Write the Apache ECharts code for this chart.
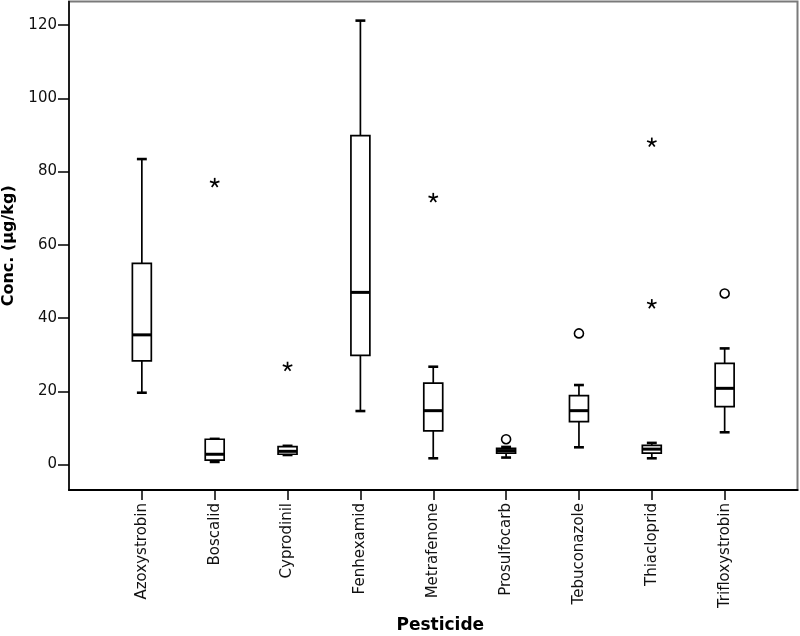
<!DOCTYPE html>
<html>
<head>
<meta charset="utf-8">
<script src="https://cdn.jsdelivr.net/npm/echarts@6/dist/echarts.min.js"></script>
<style>html,body{margin:0;padding:0;background:#fff}#c{width:800px;height:636px}</style>
</head>
<body>
<div id="c"></div>
<script>
const categories = ['Azoxystrobin','Boscalid','Cyprodinil','Fenhexamid','Metrafenone','Prosulfocarb','Tebuconazole','Thiacloprid','Trifloxystrobin'];
const minVals = [19.6, 0.7, 2.6, 14.6, 1.7, 1.9, 4.7, 1.7, 8.8];
const q1Vals  = [28.3, 1.2, 2.8, 29.8, 9.2, 3.1, 11.7, 3.1, 15.8];
const medVals = [35.4, 2.8, 3.6, 47.0, 14.7, 3.8, 14.7, 4.2, 20.8];
const q3Vals  = [54.9, 6.9, 4.9, 89.8, 22.2, 4.4, 18.8, 5.2, 27.6];
const maxVals = [83.4, 7.0, 5.1, 121.2, 26.7, 4.8, 21.7, 5.9, 31.7];
const starOutliers = [['Boscalid', 76.9], ['Cyprodinil', 26.7], ['Metrafenone', 72.8], ['Thiacloprid', 87.9], ['Thiacloprid', 43.8]];
const circleOutliers = [['Prosulfocarb', 6.9], ['Tebuconazole', 35.8], ['Trifloxystrobin', 46.7]];
const yTicks = [0, 20, 40, 60, 80, 100, 120];

const axisCats = [''].concat(categories, ['']);
const idx = name => axisCats.indexOf(name);
const boxData = categories.map((c, i) => [idx(c), minVals[i], q1Vals[i], medVals[i], q3Vals[i], maxVals[i]]);
const starData = starOutliers.map(d => [idx(d[0]), d[1]]);
const circleData = circleOutliers.map(d => [idx(d[0]), d[1]]);

const chart = echarts.init(document.getElementById('c'), null, {renderer: 'canvas'});
const FONT = 'DejaVu Sans';
chart.setOption({
  animation: false,
  backgroundColor: '#fff',
  grid: {left: 69, right: 2.5, top: 1.5, bottom: 146, containLabel: false, outerBoundsMode: 'none',
         show: true, borderColor: '#7a7a7a', borderWidth: 2, backgroundColor: '#fff'},
  xAxis: {
    type: 'category', data: axisCats, boundaryGap: false,
    name: 'Pesticide', nameLocation: 'middle', nameGap: 127,
    nameTextStyle: {fontFamily: FONT, fontWeight: 'bold', fontSize: 17, color: '#000', padding: [0, 0, 0, 14]},
    axisLine: {onZero: false, lineStyle: {color: '#000', width: 2}},
    axisTick: {show: true, length: 10, lineStyle: {color: '#000', width: 1.5}, interval: (i, v) => v !== ''},
    axisLabel: {rotate: 90, margin: 13, fontFamily: FONT, fontSize: 15, color: '#111', interval: (i, v) => v !== ''},
    splitLine: {show: false}
  },
  yAxis: {
    type: 'value', min: -6.96, max: 126.42,
    name: 'Conc. (µg/kg)', nameLocation: 'middle', nameGap: 52,
    nameTextStyle: {fontFamily: FONT, fontWeight: 'bold', fontSize: 16, color: '#000'},
    axisLine: {show: true, onZero: false, lineStyle: {color: '#000', width: 1.5}},
    axisTick: {show: true, length: 11, lineStyle: {color: '#000', width: 1.5}, customValues: yTicks},
    axisLabel: {margin: 12, fontFamily: FONT, fontSize: 15, color: '#111', customValues: yTicks},
    splitLine: {show: false}
  },
  series: [
    {
      type: 'custom', data: boxData, z: 5,
      renderItem: function (params, api) {
        const x = api.value(0);
        const band = api.size([1, 0])[0];
        const hw = band * 0.13, cw = band * 0.068;
        const pMin = api.coord([x, api.value(1)]);
        const pQ1 = api.coord([x, api.value(2)]);
        const pMed = api.coord([x, api.value(3)]);
        const pQ3 = api.coord([x, api.value(4)]);
        const pMax = api.coord([x, api.value(5)]);
        const cx = pMin[0];
        const st = {stroke: '#000', lineWidth: 1.7, fill: null};
        return {type: 'group', children: [
          {type: 'line', shape: {x1: cx, y1: pMax[1], x2: cx, y2: pQ3[1]}, style: st},
          {type: 'line', shape: {x1: cx, y1: pQ1[1], x2: cx, y2: pMin[1]}, style: st},
          {type: 'line', shape: {x1: cx - cw, y1: pMax[1], x2: cx + cw, y2: pMax[1]}, style: {stroke: '#000', lineWidth: 2.6}},
          {type: 'line', shape: {x1: cx - cw, y1: pMin[1], x2: cx + cw, y2: pMin[1]}, style: {stroke: '#000', lineWidth: 2.6}},
          {type: 'rect', shape: {x: cx - hw, y: pQ3[1], width: hw * 2, height: pQ1[1] - pQ3[1]}, style: {stroke: '#000', lineWidth: 1.7, fill: '#fff'}},
          {type: 'line', shape: {x1: cx - hw, y1: pMed[1], x2: cx + hw, y2: pMed[1]}, style: {stroke: '#000', lineWidth: 3}}
        ]};
      }
    },
    {
      type: 'scatter', data: circleData, symbol: 'circle', symbolSize: 9, z: 6,
      itemStyle: {color: '#fff', borderColor: '#000', borderWidth: 1.6, opacity: 1}
    },
    {
      type: 'custom', data: starData, z: 6,
      renderItem: function (params, api) {
        const p = api.coord([api.value(0), api.value(1)]);
        const r = 5, children = [];
        for (let k = 0; k < 5; k++) {
          const a = -Math.PI / 2 + k * 2 * Math.PI / 5;
          children.push({type: 'line', shape: {x1: p[0], y1: p[1], x2: p[0] + r * Math.cos(a), y2: p[1] + r * Math.sin(a)}, style: {stroke: '#000', lineWidth: 1.7}});
        }
        return {type: 'group', children: children};
      }
    }
  ]
});
</script>
</body>
</html>
